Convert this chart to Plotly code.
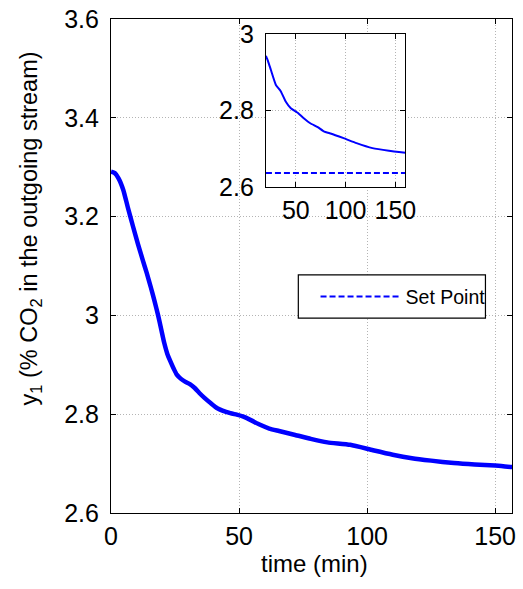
import plotly.graph_objects as go

# Main curve: time (min) vs y1 (% CO2)
main_time = [0, 1.5, 3, 4.8, 6.5, 8.6, 10.5, 12.4, 14, 15.6, 17, 18.4, 19.6, 20.8, 22, 23.2,
             24.5, 25.7, 27.2, 28.9, 30.8, 32.7, 34.5, 36.5, 39, 41.5, 46.6, 49.1, 51.7, 55,
             58, 61.8, 65.6, 71.9, 78, 84.5, 93.4, 102.3, 110, 117.5, 125, 133.9, 142, 150,
             156.6, 160]
main_y = [3.291, 3.288, 3.277, 3.254, 3.22, 3.18, 3.145, 3.112, 3.085, 3.056, 3.029, 3.0,
          2.972, 2.944, 2.922, 2.907, 2.892, 2.880, 2.872, 2.866, 2.861, 2.853, 2.843, 2.833,
          2.822, 2.812, 2.802, 2.799, 2.795, 2.787, 2.779, 2.771, 2.766, 2.758, 2.75, 2.743,
          2.738, 2.727, 2.718, 2.711, 2.706, 2.701, 2.698, 2.696, 2.693, 2.692]

# Inset curve
inset_time = [20, 22, 25, 30, 35, 40, 45, 51.5, 58, 64.5, 72, 78.6, 84, 98, 111, 127, 143.5, 160]
inset_y = [2.943, 2.93, 2.906, 2.867, 2.85, 2.823, 2.806, 2.795, 2.78, 2.767, 2.757, 2.745,
           2.741, 2.728, 2.715, 2.702, 2.695, 2.69]

# Set point
sp_time = [20, 160]
sp_y = [2.637, 2.637]

main_xticks = [0, 50, 100, 150]
main_yticks = [2.6, 2.8, 3.0, 3.2, 3.4, 3.6]
main_yticktext = ["2.6", "2.8", "3", "3.2", "3.4", "3.6"]
inset_xticks = [50, 100, 150]
inset_yticks = [2.6, 2.8, 3.0]
inset_yticktext = ["2.6", "2.8", "3"]

W, H = 523, 589
L, T, B = 110.7, 19, 513.3
pw, ph = W - L, B - T

def px_x(px):
    return (px - L) / pw

def px_y(py):
    return (B - py) / ph

BLUE = "#0000FF"
FONT = "Liberation Sans, Arial, sans-serif"

fig = go.Figure()
fig.add_trace(go.Scatter(x=main_time, y=main_y, mode="lines",
                         line=dict(color=BLUE, width=4.5, shape="spline", smoothing=0.5),
                         showlegend=False, xaxis="x", yaxis="y"))
fig.add_trace(go.Scatter(x=inset_time, y=inset_y, mode="lines",
                         line=dict(color=BLUE, width=2, shape="spline", smoothing=0.4),
                         showlegend=False, xaxis="x2", yaxis="y2"))
fig.add_trace(go.Scatter(x=sp_time, y=sp_y, mode="lines", name="Set Point",
                         line=dict(color=BLUE, width=2, dash="6px,3px"),
                         showlegend=True, xaxis="x2", yaxis="y2"))

axis_common = dict(showline=True, linecolor="black", linewidth=1.2, mirror="ticks",
                   ticks="inside", ticklen=5, tickcolor="black", tickwidth=1,
                   showgrid=True, gridcolor="#b4b4b4", gridwidth=1, griddash="1px,2px",
                   zeroline=False, tickfont=dict(family=FONT, size=25, color="black"))

fig.update_layout(
    width=W, height=H,
    margin=dict(l=L, r=0, t=T, b=H - B, pad=0),
    paper_bgcolor="white", plot_bgcolor="white",
    xaxis=dict(domain=[0, 1], range=[0, (W - L) / 2.6333], tickvals=main_xticks,
               anchor="y", ticklabelstandoff=1, **axis_common),
    yaxis=dict(domain=[0, 1], range=[2.6, 3.6], tickvals=main_yticks,
               ticktext=main_yticktext, anchor="x", ticklabelstandoff=6, **axis_common),
    xaxis2=dict(domain=[px_x(270), px_x(413.3)], range=[20, 160], tickvals=inset_xticks,
                anchor="y2", ticklabelstandoff=1, **axis_common),
    yaxis2=dict(domain=[px_y(187.3), px_y(34)], range=[2.6, 3.0], tickvals=inset_yticks,
                ticktext=inset_yticktext, anchor="x2", ticklabelstandoff=6, **axis_common),
    legend=dict(x=px_x(321), y=px_y(297), xanchor="left", yanchor="middle",
                bgcolor="rgba(0,0,0,0)", borderwidth=0,
                font=dict(family=FONT, size=19.5, color="black"),
                itemwidth=80),
    shapes=[
        dict(type="rect", xref="paper", yref="paper", layer="above",
             x0=px_x(303.3), x1=px_x(495.7), y0=px_y(318.3), y1=px_y(275),
             line=dict(color="black", width=1.2), fillcolor="white"),
    ],
    annotations=[
        dict(text="y<sub>1</sub> (% CO<sub>2</sub> in the outgoing stream)",
             xref="paper", yref="paper", x=px_x(28), y=px_y(229),
             xanchor="center", yanchor="middle", textangle=-90, showarrow=False,
             font=dict(family=FONT, size=23.5, color="black")),
        dict(text="time (min)", xref="paper", yref="paper", x=px_x(320), y=px_y(564),
             xanchor="center", yanchor="middle", showarrow=False,
             font=dict(family=FONT, size=24, color="black")),
    ],
)

fig.write_html("out.html")
